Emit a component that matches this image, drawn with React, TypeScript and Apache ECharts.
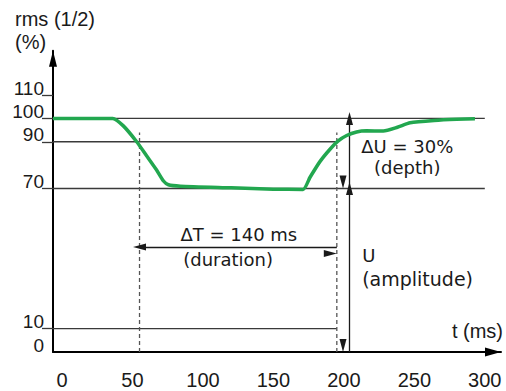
import React, { useEffect, useRef } from "react";
import * as echarts from "echarts";

// axis labels
const timeTicks = [0, 50, 100, 150, 200, 250, 300];
const levelTicks = [0, 10, 70, 90, 100, 110];
const levelTickMarks = [10, 70, 90, 100, 110];

// rms (1/2) curve: time (ms) and level (%)
const curveTime = [-6.4, 36, 43.5, 53, 60, 67, 72, 75.5, 84, 120, 150, 171, 176, 183, 190, 196, 202, 209, 216, 228, 238, 247, 264, 280, 293];
const curveRms = [100, 100, 96.8, 90, 84, 78, 73.2, 71.6, 71, 70.3, 69.7, 69.6, 74.8, 81.5, 86.7, 90.4, 92.7, 94.2, 94.7, 94.6, 96.2, 98.1, 99.1, 99.6, 99.8];

// reference levels (%) and the time (ms) where each line stops
const refLevels = [100, 90, 70, 10];
const refLevelEnds = [300, 195, 300, 195];

// dip boundaries (ms), depth (%)
const dipStart = 55;
const dipEnd = 195;
const dashTop = 94;
const nominal = 100;
const residual = 70;
const measureAt = 204;
const durationLevel = 45;

const depthText = ["ΔU = 30%", "(depth)"];
const durationText = ["ΔT = 140 ms", "(duration)"];
const amplitudeText = ["U", "(amplitude)"];

const X_MIN = -6.4;
const X_MAX = 311.5;
const Y_MAX = 129;

const GREEN = "#22a74f";
const INK = "#1a1a1a";
const RULE = "#3a3a3a";
const SANS = '"Liberation Sans", Arial, sans-serif';
const NOTE = '"DejaVu Sans", Verdana, sans-serif';

export default function App() {
  const ref = useRef<HTMLDivElement>(null);

  useEffect(() => {
    if (!ref.current) return;
    const chart = echarts.init(ref.current, undefined, { renderer: "svg" });

    const levelSeries = refLevels.map((lv, i) => ({
      type: "line",
      silent: true,
      symbol: "none",
      z: 1,
      lineStyle: { color: RULE, width: 1.3 },
      data: [
        [X_MIN, lv],
        [refLevelEnds[i], lv],
      ],
    }));

    const dashSeries = [dipStart, dipEnd].map((t) => ({
      type: "line",
      silent: true,
      symbol: "none",
      z: 1,
      lineStyle: { color: "#555", width: 1.3, type: [4, 3] },
      data: [
        [t, 0],
        [t, dashTop],
      ],
    }));

    const arrowLine = {
      symbol: ["triangle", "triangle"],
      symbolSize: [7, 13],
      symbolOffset: [0, 6.5],
      silent: true,
      label: { show: false },
      lineStyle: { color: INK, width: 1.3, type: "solid" },
      emphasis: { disabled: true },
      data: [
        [{ coord: [dipStart, durationLevel] }, { coord: [dipEnd, durationLevel] }],
        [{ coord: [measureAt, nominal] }, { coord: [measureAt, residual] }],
        [{ coord: [measureAt, residual] }, { coord: [measureAt, 0] }],
      ],
    };

    chart.setOption({
      animation: false,
      grid: {
        left: 53,
        right: 5,
        top: 352 - Y_MAX * 2.336,
        bottom: 39,
        containLabel: false,
        outerBoundsMode: "none",
      },
      xAxis: {
        type: "value",
        min: X_MIN,
        max: X_MAX,
        splitLine: { show: false },
        axisTick: { show: false },
        axisLine: {
          show: true,
          onZero: true,
          symbol: ["none", "triangle"],
          symbolSize: [9, 16],
          symbolOffset: [0, -8],
          lineStyle: { color: "#000", width: 2 },
        },
        axisLabel: {
          customValues: timeTicks,
          fontFamily: SANS,
          fontSize: 20,
          color: INK,
          margin: 18,
          lineHeight: 20,
        },
      },
      yAxis: {
        type: "value",
        min: 0,
        max: Y_MAX,
        splitLine: { show: false },
        axisTick: {
          show: true,
          customValues: levelTickMarks,
          length: 11,
          lineStyle: { color: RULE, width: 1.3 },
        },
        axisLine: {
          show: true,
          onZero: false,
          symbol: ["none", "triangle"],
          symbolSize: [8, 16],
          symbolOffset: [0, -8],
          lineStyle: { color: "#000", width: 2 },
        },
        axisLabel: {
          customValues: levelTicks,
          fontFamily: SANS,
          fontSize: 19,
          color: INK,
          margin: 9,
          verticalAlign: "bottom",
          lineHeight: 14,
        },
      },
      series: [
        ...levelSeries,
        ...dashSeries,
        {
          type: "line",
          data: [],
          silent: true,
          markLine: arrowLine,
        },
        {
          type: "line",
          silent: true,
          symbol: "none",
          smooth: 0.2,
          z: 5,
          lineStyle: { color: GREEN, width: 3.5 },
          data: curveTime.map((t, i) => [t, curveRms[i]]),
        },
      ],
    });

    const at = (t: number, v: number) =>
      chart.convertToPixel({ xAxisIndex: 0, yAxisIndex: 0 }, [t, v]) as number[];

    const note = (text: string, p: number[], align: string, font: string) => ({
      type: "text",
      silent: true,
      x: p[0],
      y: p[1],
      style: {
        text,
        fill: INK,
        font,
        align,
        verticalAlign: "middle",
        textAlign: align,
        textVerticalAlign: "middle",
      },
    });

    const noteFont = `18px ${NOTE}`;
    chart.setOption({
      graphic: {
        elements: [
          note("rms (1/2)", [15, 18.5], "left", `20px ${SANS}`),
          note("(%)", [15, 41.5], "left", `20px ${SANS}`),
          note("t (ms)", [503, 331], "right", `20px ${SANS}`),
          note(depthText[0], at(245, 87.8), "center", noteFont),
          note(depthText[1], at(245, 78.8), "center", noteFont),
          note(durationText[0], at(84, 50.1), "left", noteFont),
          note(durationText[1], at(86, 39.8), "left", noteFont),
          note(amplitudeText[0], at(213, 41.5), "left", noteFont),
          note(amplitudeText[1], at(213, 31.2), "left", `19px ${NOTE}`),
        ],
      },
    });

    return () => chart.dispose();
  }, []);

  return (
    <div
      ref={ref}
      style={{ position: "absolute", left: 0, top: 0, width: 506, height: 391, background: "#fff" }}
    />
  );
}
